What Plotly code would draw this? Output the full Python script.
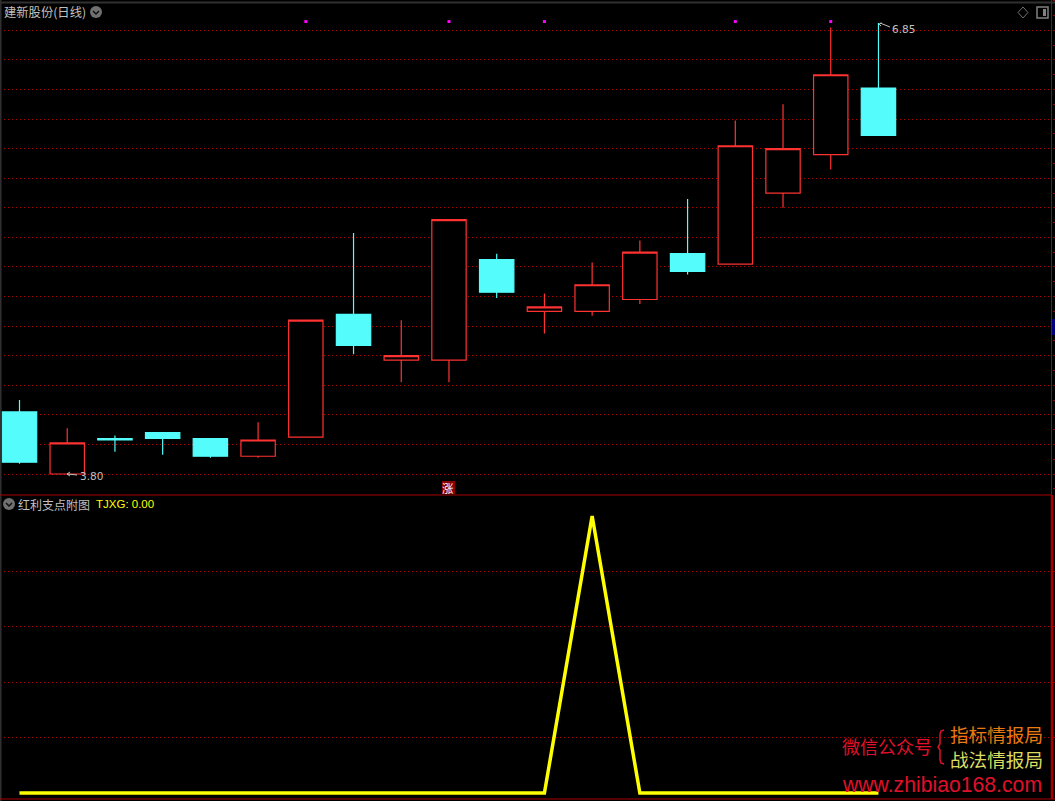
import plotly.graph_objects as go

W, H = 1055, 801
days = list(range(19))
open_ = [4.22, 3.80, 4.04, 4.08, 4.04, 3.92, 4.05, 4.88, 4.57, 4.57, 5.25, 4.90, 4.90, 4.98, 5.29, 5.22, 5.70, 5.96, 6.41]
close = [3.88, 4.01, 4.03, 4.04, 3.92, 4.03, 4.84, 4.67, 4.60, 5.52, 5.03, 4.93, 5.08, 5.30, 5.17, 6.02, 6.00, 6.50, 6.09]
high = [4.30, 4.11, 4.06, 4.08, 4.04, 4.15, 4.84, 5.43, 4.84, 5.52, 5.29, 5.02, 5.23, 5.38, 5.66, 6.19, 6.30, 6.82, 6.85]
low = [3.87, 3.80, 3.95, 3.93, 3.91, 3.91, 4.05, 4.61, 4.42, 4.42, 4.99, 4.75, 4.87, 4.95, 5.15, 5.22, 5.60, 5.86, 6.09]
signal_days = [6, 9, 11, 15, 17]
signal_level = [6.86, 6.86, 6.86, 6.86, 6.86]
tjxg = [0, 0, 0, 0, 0, 0, 0, 0, 0, 0, 0, 0, 1, 0, 0, 0, 0, 0, 0]
price_ticks = [3.8, 4.0, 4.2, 4.4, 4.6, 4.8, 5.0, 5.2, 5.4, 5.6, 5.8, 6.0, 6.2, 6.4, 6.6, 6.8]
tj_ticks = [0.2, 0.4, 0.6, 0.8]

RED = "#ff3232"
CYAN = "#54fcfc"
GRID = "#b00000"
AXIS = "#a80000"
TXT = "#c0c0c0"
CJK = "Noto Sans CJK SC"


def fx(p):
    return p / W


def fy(p):
    return 1 - p / H


fig = go.Figure()
fig.add_trace(go.Candlestick(
    x=days, open=open_, high=high, low=low, close=close,
    increasing=dict(line=dict(color=RED, width=1.2), fillcolor="#000000"),
    decreasing=dict(line=dict(color=CYAN, width=1.2), fillcolor=CYAN),
    whiskerwidth=0, xaxis="x", yaxis="y", hoverinfo="skip", showlegend=False,
))
fig.add_trace(go.Scatter(
    x=signal_days, y=signal_level, mode="markers",
    marker=dict(symbol="square", size=3, color="#ff00ff"),
    xaxis="x", yaxis="y", hoverinfo="skip", showlegend=False,
))
fig.add_trace(go.Scatter(
    x=days, y=tjxg, mode="lines", line=dict(color="#ffff00", width=3.5),
    xaxis="x2", yaxis="y2", hoverinfo="skip", showlegend=False,
))

xr = [-19.5 / 47.72, (1052 - 19.5) / 47.72]
xcommon = dict(range=xr, domain=[0, 1052 / W], visible=False, fixedrange=True)
ycommon = dict(
    side="right", showticklabels=False, ticks="outside", ticklen=3, tickcolor=AXIS,
    showline=False, zeroline=False, showgrid=True, gridcolor=GRID, gridwidth=1,
    griddash="1px,3px", fixedrange=True,
)

annotations = []


def note(x, y, text, size=12, color=TXT, family=CJK, anchor="left", **kw):
    annotations.append(dict(
        x=fx(x), y=fy(y), xref="paper", yref="paper", text=text, showarrow=False,
        xanchor=anchor, yanchor="middle", font=dict(size=size, color=color, family=family),
        borderpad=0, **kw))


note(3, 12, "建新股份(日线)", 12.3)
note(17, 504, "红利支点附图", 12)
note(95, 504, "TJXG: 0.00", 11.5, "#ffff00", "Liberation Sans")
note(79, 476, "3.80", 10.5, TXT, "DejaVu Sans")
note(891, 29, "6.85", 10.5, TXT, "DejaVu Sans")
note(841, 746, "微信公众号", 18, "#e0102a")
note(949, 733, "指标情报局", 18.6, "#e87a10")
note(949, 758, "战法情报局", 18.6, "#dcdc60")
note(841, 784, "www.zhibiao168.com", 21.2, "#e0102a", "Liberation Sans")


def line_shape(x0, y0, x1, y1, color, width=1, dash="solid"):
    return dict(type="line", xref="paper", yref="paper", x0=fx(x0), y0=fy(y0), x1=fx(x1), y1=fy(y1),
                line=dict(color=color, width=width, dash=dash))


def path_shape(points, color, width=1, fill=None):
    d = "M " + " L ".join(f"{fx(a):.5f},{fy(b):.5f}" for a, b in points)
    if fill:
        d += " Z"
    return dict(type="path", xref="paper", yref="paper", path=d, line=dict(color=color, width=width),
                fillcolor=fill if fill else "rgba(0,0,0,0)")


def circle(cx, cy, r, color):
    return dict(type="circle", xref="paper", yref="paper", x0=fx(cx - r), x1=fx(cx + r), y0=fy(cy + r), y1=fy(cy - r),
                line=dict(width=0), fillcolor=color)


shapes = [
    line_shape(0, 2.5, W, 2.5, "#303030", 2),
    line_shape(0.5, 0, 0.5, H, "#303030", 2),
    line_shape(0, 495, 1052, 495, AXIS, 1),
    line_shape(0, 799, W, 799, AXIS, 1),
    line_shape(1051.5, 0, 1051.5, 495, AXIS, 1),
    line_shape(1052, 495, 1052, 799, AXIS, 2.5),
    circle(96, 12, 6, "#707070"),
    path_shape([(93, 11), (96, 14), (99, 11)], "#111111", 1.5),
    circle(9, 504, 6, "#707070"),
    path_shape([(6, 503), (9, 506), (12, 503)], "#111111", 1.5),
    path_shape([(1023, 7), (1028, 12.5), (1023, 18), (1018, 12.5)], "#707070", 1, "#000000"),
    dict(type="rect", xref="paper", yref="paper", x0=fx(1037), x1=fx(1048), y0=fy(18), y1=fy(7),
         line=dict(color="#808080", width=1.5), fillcolor="#000000"),
    dict(type="rect", xref="paper", yref="paper", x0=fx(1043), x1=fx(1046), y0=fy(16), y1=fy(9),
         line=dict(width=0), fillcolor="#808080"),
    dict(type="rect", xref="paper", yref="paper", x0=fx(442), x1=fx(455), y0=fy(494), y1=fy(481),
         line=dict(width=0), fillcolor="#8b0000"),
    dict(type="rect", xref="paper", yref="paper", x0=fx(1052), x1=fx(W), y0=fy(335), y1=fy(319),
         line=dict(width=0), fillcolor="#000080"),
    # arrows at the extreme labels
    path_shape([(67, 474), (77, 475)], TXT, 1),
    path_shape([(70, 472), (67, 474), (70, 476)], TXT, 1),
    path_shape([(880, 23), (890, 27)], TXT, 1),
    path_shape([(882, 23), (879, 24), (881, 26)], TXT, 1),
    # brace of the watermark
    path_shape([(944, 730), (941, 731), (940, 734), (940, 744), (938, 747), (940, 750), (940, 760), (941, 763), (944, 764)],
               "#e0102a", 1.5),
]

note(447.5, 487.5, "涨", 11.5, "#ffffff", anchor="center")

fig.update_layout(
    width=W, height=H, margin=dict(l=0, r=0, t=0, b=0, pad=0), autosize=False,
    paper_bgcolor="#000000", plot_bgcolor="#000000", showlegend=False, boxgap=0.28, boxgroupgap=0,
    xaxis=dict(anchor="y", **xcommon),
    xaxis2=dict(anchor="y2", **xcommon),
    yaxis=dict(anchor="x", domain=[fy(494), fy(0)], range=[3.80 - 20 * 0.006763, 3.80 + 474 * 0.006763],
               tickmode="array", tickvals=price_ticks,
               minor=dict(ticks="outside", ticklen=3, tickcolor=AXIS, dtick=0.1, tick0=3.8, showgrid=False),
               **ycommon),
    yaxis2=dict(anchor="x2", domain=[fy(799), fy(496)], range=[-6 / 277, 297 / 277],
                tickmode="array", tickvals=tj_ticks, **ycommon),
    annotations=annotations, shapes=shapes,
)
fig.update_xaxes(rangeslider_visible=False)

fig.write_html(
    "out.html", config=dict(displayModeBar=False, staticPlot=True),
    post_script="document.body.style.margin='0';document.body.style.background='#000';document.body.style.overflow='hidden';",
)
